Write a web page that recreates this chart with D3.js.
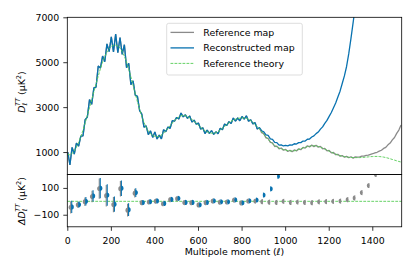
<!DOCTYPE html>
<html>
<head>
<meta charset="utf-8">
<script src="https://cdn.jsdelivr.net/npm/d3@7"></script>
<style>
  body { margin: 0; background: #fff; }
  text { font-family: "DejaVu Sans", sans-serif; }
</style>
</head>
<body>
<div id="chart"></div>
<script>
// multipole grid for the spectra (every 10th l)
const ell = d3.range(2, 1533, 10);

const theory = [900, 870, 930, 1050, 1220, 1430, 1680, 1970, 2290, 2630,
  2980, 3330, 3680, 4030, 4380, 4710, 5000, 5250, 5450, 5600,
  5700, 5750, 5760, 5720, 5630, 5480, 5270, 5000, 4690, 4340,
  3970, 3600, 3240, 2900, 2590, 2320, 2100, 1930, 1810, 1740,
  1700, 1690, 1710, 1760, 1840, 1940, 2050, 2170, 2290, 2400,
  2490, 2560, 2610, 2630, 2620, 2580, 2520, 2450, 2370, 2280,
  2190, 2100, 2020, 1950, 1900, 1860, 1840, 1840, 1860, 1910,
  1980, 2060, 2140, 2220, 2300, 2370, 2420, 2460, 2490, 2510,
  2520, 2520, 2500, 2460, 2400, 2320, 2230, 2130, 2030, 1910,
  1790, 1670, 1560, 1460, 1370, 1290, 1230, 1180, 1140, 1110,
  1085, 1065, 1050, 1045, 1055, 1080, 1110, 1145, 1180, 1210,
  1240, 1260, 1275, 1280, 1270, 1250, 1215, 1175, 1130, 1085,
  1040, 995, 950, 910, 870, 840, 815, 795, 780, 770,
  760, 755, 752, 750, 752, 758, 765, 775, 785, 795,
  800, 805, 805, 800, 790, 775, 755, 730, 700, 670,
  640, 610, 580, 555];

// both maps agree below l ~ 880
const mapLow = [995, 425, 1205, 910, 1400, 1260, 1710, 1720, 2440, 2555,
  3335, 3125, 3860, 3895, 4830, 4740, 5275, 5020, 5815, 5470,
  6130, 5460, 6250, 5420, 6100, 5350, 5780, 4760, 4950, 4000,
  4175, 3533, 3481, 2846, 2690, 2112, 2166, 1776, 1942, 1652,
  1898, 1580, 1754, 1584, 1994, 1901, 2115, 2053, 2394, 2374,
  2542, 2469, 2740, 2565, 2659, 2502, 2611, 2333, 2422, 2241,
  2294, 2022, 2085, 1820, 1978, 1834, 1957, 1788, 1899, 1819,
  2058, 1995, 2244, 2181, 2352, 2266, 2511, 2382, 2516, 2393,
  2585, 2468, 2617, 2369, 2439, 2255, 2308, 2026];

const refHigh = [2070, 1860, 1820, 1630, 1605, 1430, 1410, 1245, 1260, 1145,
  1180, 1080, 1120, 1025, 1080, 1010, 1095, 1050, 1145, 1105,
  1210, 1175, 1280, 1230, 1310, 1240, 1300, 1215, 1250, 1145,
  1160, 1050, 1070, 965, 980, 880, 900, 815, 845, 770,
  810, 745, 790, 730, 782, 775, 785, 815, 820, 855,
  860, 900, 925, 965, 990, 1040, 1080, 1160, 1210, 1320,
  1400, 1540, 1650, 1830, 1980, 2200];

const reconHigh = [2090, 1950, 1900, 1760, 1740, 1590, 1560, 1430, 1420, 1310,
  1320, 1270, 1300, 1275, 1320, 1310, 1370, 1355, 1420, 1420,
  1490, 1490, 1570, 1580, 1670, 1720, 1820, 1890, 2020, 2120,
  2280, 2410, 2590, 2760, 2970, 3180, 3450, 3710, 4050, 4390,
  4810, 5380, 6050, 6760, 7500, 8300];

// binned residuals
const binEll = [18, 51, 83, 116, 149, 181, 214, 246, 279, 312,
  344, 377, 409, 442, 475, 507, 540, 572, 605, 638,
  670, 703, 735, 768, 801, 833, 866, 898, 931, 964,
  996, 1029, 1061, 1094, 1127, 1159, 1192, 1224, 1257, 1290,
  1322, 1355, 1387, 1420, 1453, 1485, 1518];
const resRef = [-45, -26, -3, 36, 95, 42, -24, 94, -66, 61,
  -10, -5, 1, -18, 12, 20, -9, -10, -27, -10,
  2, -6, -5, 9, -12, 2, 2, -3, -6, -8,
  0, -8, -5, -8, -10, -4, -2, 0, 2, 12,
  25, 65, 118, 200, 330, 520, 800];
const resRecon = [-42, -24, 0, 40, 98, 47, -21, 98, -62, 65,
  -9, -3, 3, -16, 14, 22, -8, -8, -26, -8,
  4, -4, -4, 11, -11, 4, 10, 47, 93, 187,
  250, 290, 340, 400, 480, 580, 700, 850, 1050, 1350,
  1800, 2400, 3200, 4200, 5500, 7000, 9000];
const resErr = [46, 22, 32, 42, 76, 80, 57, 58, 48, 32,
  15, 13, 12, 11, 10, 10, 9, 9, 9, 8,
  8, 8, 8, 8, 8, 8, 8, 8, 8, 8,
  7, 7, 7, 7, 7, 7, 7, 7, 7, 7,
  7, 7, 7, 7, 7, 7, 7];

const topTicks = [1000, 3000, 5000, 7000];
const botTicks = [-100, 100];
const xTicks = [0, 200, 400, 600, 800, 1000, 1200, 1400];

const GRAY = "#8a8a8a", BLUE = "#0872b0", GREEN = "#55cc55";
const FS = 9.4;

const svg = d3.select("#chart").append("svg")
  .attr("width", 415).attr("height", 277);

const x = d3.scaleLinear().domain([0, 1535]).range([67.3, 401.7]);
const yTop = d3.scaleLinear().domain([0, 7000]).range([174.5, 17.3]);
const yBot = d3.scaleLinear().domain([-190, 200]).range([226.8, 174.5]);

const defs = svg.append("defs");
defs.append("clipPath").attr("id", "clipTop").append("rect")
  .attr("x", x.range()[0]).attr("y", yTop.range()[1])
  .attr("width", x.range()[1] - x.range()[0]).attr("height", yTop.range()[0] - yTop.range()[1]);
defs.append("clipPath").attr("id", "clipBot").append("rect")
  .attr("x", x.range()[0]).attr("y", yBot.range()[1])
  .attr("width", x.range()[1] - x.range()[0]).attr("height", yBot.range()[0] - yBot.range()[1]);

// series
const refMap = mapLow.concat(refHigh).map((v, i) => [ell[i], v]);
const reconMap = mapLow.concat(reconHigh).map((v, i) => [ell[i], v]);
const theo = theory.map((v, i) => [ell[i], v]);

const line = d3.line().x(d => x(d[0])).y(d => yTop(d[1]));

const topPanel = svg.append("g").attr("clip-path", "url(#clipTop)");
topPanel.append("path").attr("d", line(refMap)).attr("fill", "none")
  .attr("stroke", GRAY).attr("stroke-width", 1.3).attr("stroke-linejoin", "bevel");
topPanel.append("path").attr("d", line(reconMap)).attr("fill", "none")
  .attr("stroke", BLUE).attr("stroke-width", 1.3).attr("stroke-linejoin", "bevel");
topPanel.append("path").attr("d", line(theo)).attr("fill", "none")
  .attr("stroke", GREEN).attr("stroke-width", 0.9).attr("stroke-dasharray", "2.8,1.2");

// residual panel
const botPanel = svg.append("g").attr("clip-path", "url(#clipBot)");
botPanel.append("line")
  .attr("x1", x.range()[0]).attr("x2", x.range()[1])
  .attr("y1", yBot(0)).attr("y2", yBot(0))
  .attr("stroke", GREEN).attr("stroke-width", 0.9).attr("stroke-dasharray", "2.8,1.2");

const r = 2.6;
const leftHalf = `M0,${-r}A${r},${r} 0 0 0 0,${r}Z`;
const rightHalf = `M0,${-r}A${r},${r} 0 0 1 0,${r}Z`;

function residuals(values, color, dx, half) {
  const g = botPanel.append("g");
  g.selectAll("line").data(values).join("line")
    .attr("x1", (d, i) => x(binEll[i]) + dx).attr("x2", (d, i) => x(binEll[i]) + dx)
    .attr("y1", (d, i) => yBot(d - resErr[i])).attr("y2", (d, i) => yBot(d + resErr[i]))
    .attr("stroke", color).attr("stroke-width", 1.1);
  g.selectAll("path").data(values).join("path")
    .attr("d", half)
    .attr("transform", (d, i) => `translate(${x(binEll[i])},${yBot(d)})`)
    .attr("fill", color);
}
residuals(resRef, GRAY, -0.5, leftHalf);
residuals(resRecon, BLUE, 0.5, rightHalf);

// frames
[yTop, yBot].forEach(s => {
  svg.append("rect")
    .attr("x", x.range()[0]).attr("y", s.range()[1])
    .attr("width", x.range()[1] - x.range()[0]).attr("height", s.range()[0] - s.range()[1])
    .attr("fill", "none").attr("stroke", "#000").attr("stroke-width", 0.8);
});

// axes
function styleAxis(g) {
  g.select(".domain").remove();
  g.selectAll(".tick line").attr("stroke", "#000").attr("stroke-width", 0.8);
  g.selectAll(".tick text").attr("font-size", FS).attr("fill", "#000")
    .attr("font-family", "DejaVu Sans, sans-serif");
}
svg.append("g").attr("transform", `translate(${x.range()[0]},0)`)
  .call(d3.axisLeft(yTop).tickValues(topTicks).tickSize(4).tickPadding(4).tickFormat(d3.format("d")))
  .call(styleAxis);
svg.append("g").attr("transform", `translate(${x.range()[0]},0)`)
  .call(d3.axisLeft(yBot).tickValues(botTicks).tickSize(4).tickPadding(4)
    .tickFormat(d => d < 0 ? "\u2212" + Math.abs(d) : d))
  .call(styleAxis);
svg.append("g").attr("transform", `translate(0,${yBot.range()[0]})`)
  .call(d3.axisBottom(x).tickValues(xTicks).tickSize(4).tickPadding(6.3).tickFormat(d3.format("d")))
  .call(styleAxis);

// axis labels
svg.append("text").attr("x", 234.5).attr("y", 254.5).attr("text-anchor", "middle")
  .attr("font-size", FS)
  .call(t => {
    t.append("tspan").text("Multipole moment (");
    t.append("tspan").attr("font-style", "italic").text("\u2113");
    t.append("tspan").text(")");
  });

function specLabel(cy, delta) {
  const t = svg.append("text")
    .attr("transform", `translate(24.5,${cy}) rotate(-90)`)
    .attr("text-anchor", "middle").attr("font-size", FS);
  t.append("tspan").attr("font-style", "italic").text((delta ? "\u0394" : "") + "D");
  t.append("tspan").attr("font-size", 6.6).attr("font-style", "italic").attr("dy", 2.4).text("\u2113");
  t.append("tspan").attr("font-size", 6.6).attr("font-style", "italic").attr("dx", -3.2).attr("dy", -6.8).text("TT");
  t.append("tspan").attr("dy", 4.4).text(" (\u03bcK");
  t.append("tspan").attr("font-size", 6.6).attr("dy", -3.6).text("2");
  t.append("tspan").attr("dy", 3.6).text(")");
}
specLabel(92, false);
specLabel(201, true);

// legend
const legendItems = [
  { label: "Reference map", color: GRAY, dash: null },
  { label: "Reconstructed map", color: BLUE, dash: null },
  { label: "Reference theory", color: GREEN, dash: "2.8,1.2" }
];
const lg = svg.append("g");
lg.append("rect").attr("x", 166.7).attr("y", 23.3).attr("width", 135.6).attr("height", 51.7)
  .attr("rx", 2).attr("fill", "#fff").attr("fill-opacity", 0.8)
  .attr("stroke", "#d4d4d4").attr("stroke-width", 0.8);
legendItems.forEach((d, i) => {
  const yy = 32.4 + i * 15.5;
  lg.append("line").attr("x1", 170.5).attr("x2", 194).attr("y1", yy).attr("y2", yy)
    .attr("stroke", d.color).attr("stroke-width", d.dash ? 0.9 : 1.3)
    .attr("stroke-dasharray", d.dash);
  lg.append("text").attr("x", 203.3).attr("y", yy + 3.3).attr("font-size", FS).text(d.label);
});
</script>
</body>
</html>
